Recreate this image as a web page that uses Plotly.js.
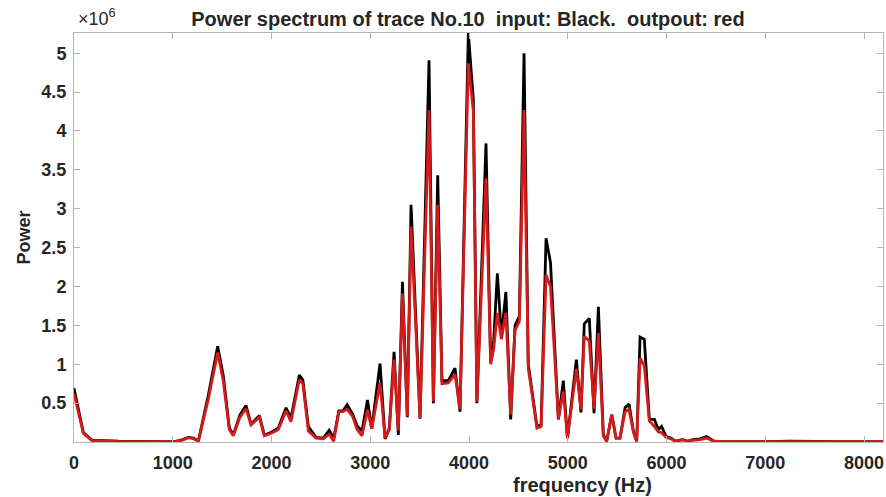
<!DOCTYPE html>
<html>
<head>
<meta charset="utf-8">
<script src="https://cdn.plot.ly/plotly-3.0.1.min.js"></script>
<style>
html,body{margin:0;padding:0;background:#fff;}
#chart{width:886px;height:497px;}
</style>
</head>
<body>
<div id="chart"></div>
<script>
// Frequency bins (Hz)
const freq = [0,95,180,300,450,600,750,900,1023,1100,1158,1210,1259,1360,1455,1512,1573,1613,1681,1742,1792,1877,1927,1992,2069,2147,2197,2282,2317,2373,2451,2525,2584,2630,2682,2724,2766,2821,2867,2916,2972,3015,3099,3150,3193,3241,3284,3326,3375,3413,3504,3595,3639,3683,3726,3790,3858,3909,3993,4044,4080,4172,4219,4250,4287,4328,4373,4422,4466,4510,4557,4600,4688,4730,4780,4825,4905,4955,4997,5087,5134,5167,5218,5266,5310,5360,5394,5445,5489,5529,5580,5620,5664,5698,5732,5775,5826,5877,5917,5950,5995,6046,6086,6164,6214,6265,6339,6407,6480,6600,6800,7000,7250,7500,7800,8192];

// Input power spectrum (black), units of 1e6
const inputPower = [0.69,0.12,0.025,0.015,0.01,0.008,0.01,0.006,0.005,0.03,0.06,0.05,0.01,0.6,1.23,0.85,0.18,0.09,0.35,0.47,0.23,0.34,0.09,0.12,0.18,0.44,0.31,0.86,0.80,0.20,0.06,0.05,0.15,0.05,0.40,0.40,0.48,0.36,0.21,0.14,0.54,0.17,1.01,0.04,0.18,1.16,0.09,2.06,0.32,3.05,0.30,4.91,0.50,3.43,0.79,0.79,0.95,0.39,5.26,4.40,0.50,3.84,1.03,1.31,2.17,1.36,1.93,0.29,1.50,1.62,5.0,1.0,0.2,0.22,2.62,2.31,0.29,0.79,0.05,1.06,0.38,1.52,1.59,0.37,1.74,0.09,0.01,0.35,0.05,0.05,0.44,0.49,0.14,0.01,1.35,1.32,0.29,0.29,0.16,0.2,0.07,0.05,0.01,0.03,0.01,0.03,0.04,0.07,0.01,0.005,0.003,0.005,0.01,0.003,0.004,0.005];

// Output power spectrum (red), units of 1e6
const outputPower = [0.62,0.11,0.02,0.012,0.008,0.006,0.008,0.005,0.004,0.025,0.055,0.045,0.008,0.55,1.15,0.78,0.16,0.08,0.32,0.43,0.22,0.32,0.08,0.11,0.16,0.40,0.26,0.80,0.75,0.14,0.05,0.04,0.10,0.01,0.39,0.39,0.42,0.33,0.16,0.08,0.41,0.17,0.76,0.05,0.16,1.06,0.15,1.91,0.33,2.77,0.31,4.27,0.52,3.05,0.75,0.76,0.87,0.42,4.87,4.25,0.52,3.39,1.0,1.2,1.66,1.32,1.66,0.35,1.44,1.55,4.27,0.95,0.18,0.2,2.15,2.0,0.30,0.65,0.05,0.94,0.42,1.36,1.3,0.43,1.4,0.08,0.01,0.35,0.05,0.05,0.39,0.42,0.13,0.01,1.08,0.98,0.27,0.2,0.13,0.12,0.06,0.04,0.01,0.03,0.01,0.02,0.03,0.05,0.01,0.004,0.003,0.004,0.008,0.003,0.003,0.004];

const xTicks = [0,1000,2000,3000,4000,5000,6000,7000,8000];
const yTickLabels = ['0.5','1','1.5','2','2.5','3','3.5','4','4.5','5'];
const yTickVals = yTickLabels.map(s => parseFloat(s) * 1e6);

const SCALE = 1e6;
const blackY = inputPower.map(v => v * SCALE);
const redY = outputPower.map(v => v * SCALE);

const FONT = 'Liberation Sans, Arial, sans-serif';
const AX = '#b5b5b5';

const traces = [
  {x: freq, y: blackY, type: 'scatter', mode: 'lines', name: 'input',
   line: {color: '#000000', width: 2.8}, hoverinfo: 'skip'},
  {x: freq, y: redY, type: 'scatter', mode: 'lines', name: 'output',
   line: {color: 'rgb(214,26,26)', width: 2.8}, hoverinfo: 'skip'}
];

const layout = {
  width: 886, height: 497,
  paper_bgcolor: '#ffffff', plot_bgcolor: '#ffffff',
  showlegend: false,
  margin: {l: 74, r: 3, t: 33, b: 55, pad: 0},
  font: {family: FONT, color: '#262626'},
  title: {
    text: 'Power spectrum of trace No.10  input: Black.  outpout: red',
    font: {family: FONT, size: 20, weight: 'bold', color: '#262626'},
    x: 468 / 886, xanchor: 'center', xref: 'container',
    y: 1 - 19 / 497, yanchor: 'middle', yref: 'container'
  },
  xaxis: {
    range: [0, 8192],
    tickvals: xTicks, ticktext: xTicks.map(String),
    ticks: 'inside', ticklen: 6, tickcolor: AX, tickwidth: 1,
    showline: true, linecolor: AX, linewidth: 1, mirror: 'ticks',
    showgrid: false, zeroline: false,
    tickfont: {family: FONT, size: 18, weight: 'bold', color: '#262626'},
    ticklabelstandoff: 4
  },
  yaxis: {
    range: [0, 5.26e6],
    tickvals: yTickVals, ticktext: yTickLabels,
    ticks: 'inside', ticklen: 6, tickcolor: AX, tickwidth: 1,
    showline: true, linecolor: AX, linewidth: 1, mirror: 'ticks',
    showgrid: false, zeroline: false,
    tickfont: {family: FONT, size: 18, weight: 'bold', color: '#262626'},
    ticklabelstandoff: 3,
    title: {text: 'Power', font: {family: FONT, size: 18, weight: 'bold', color: '#262626'}, standoff: 6}
  },
  annotations: [
    {text: 'frequency (Hz)', xref: 'paper', yref: 'paper',
     x: (582 - 74) / 809, y: -(485 - 442) / 409, xanchor: 'center', yanchor: 'middle',
     showarrow: false, font: {family: FONT, size: 20, weight: 'bold', color: '#262626'}},
    {text: '×10<sup>6</sup>', xref: 'paper', yref: 'paper',
     x: 0, y: 1, xanchor: 'left', yanchor: 'bottom', xshift: 2, yshift: 2,
     showarrow: false, font: {family: FONT, size: 18, color: '#262626'}}
  ]
};

Plotly.newPlot('chart', traces, layout, {staticPlot: true, displayModeBar: false});
</script>
</body>
</html>
